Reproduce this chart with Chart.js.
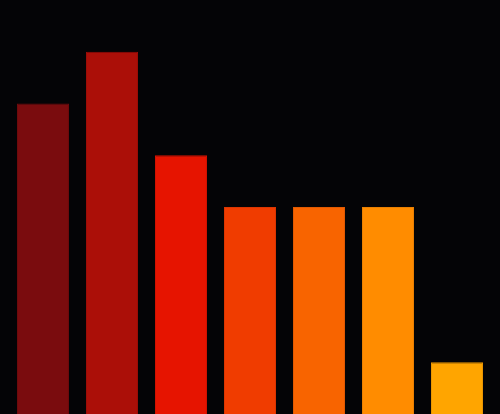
<!DOCTYPE html>
<html><head><meta charset="utf-8">
<script src="https://cdn.jsdelivr.net/npm/chart.js@4/dist/chart.umd.min.js"></script>
<style>html,body{margin:0;padding:0;background:#040406;}#wrap{width:500px;height:414px;}</style>
</head><body><div id="wrap"><canvas id="c"></canvas></div>
<script>
const categories = ["A","B","C","D","E","F","G"];
const values = [6, 7, 5, 4, 4, 4, 1];
const colors = ["#7a0c0e","#ab0f08","#e61400","#f03c00","#f86400","#ff8c00","#ffa500"];
const borders = ["#6e0a0c","#9c0d07","#d21200","#dc3600","#e25a00","#ea8000","#ea9600"];
new Chart(document.getElementById('c'), {
  type: 'bar',
  data: { labels: categories, datasets: [{ data: values, backgroundColor: colors, borderColor: borders, borderWidth: 1, categoryPercentage: 1, barPercentage: 0.7536 }] },
  options: {
    responsive: true, maintainAspectRatio: false, animation: false,
    layout: { padding: { left: 8.5, right: 8.5, top: 0, bottom: 0 } },
    plugins: { legend: { display: false }, tooltip: { enabled: false } },
    scales: {
      x: { display: false },
      y: { display: false, min: 0, max: 8 }
    }
  }
});
</script></body></html>
